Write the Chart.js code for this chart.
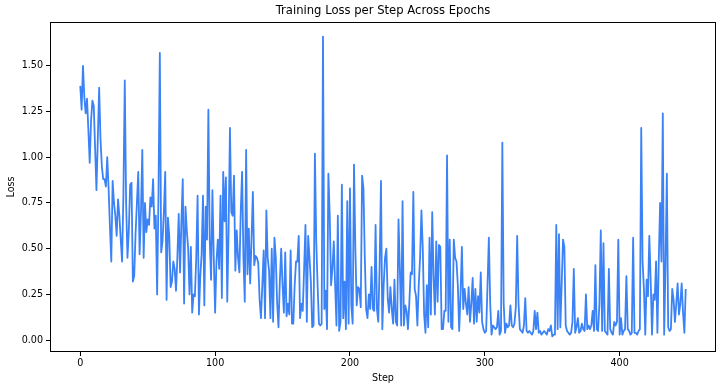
<!DOCTYPE html>
<html>
<head>
<meta charset="utf-8">
<script src="https://cdn.jsdelivr.net/npm/chart.js@4.4.1/dist/chart.umd.min.js"></script>
<style>
  html, body { margin: 0; padding: 0; background: #fff; }
  #c { display: block; }
</style>
</head>
<body>
<canvas id="c" width="720" height="390"></canvas>
<script>
// --- data (one loss value per step) ---
const loss = [
  1.39, 1.26, 1.50, 1.33, 1.24, 1.32, 1.15, 0.97, 1.20, 1.31,
  1.28, 1.05, 0.82, 1.10, 1.38, 1.10, 0.95, 0.88, 0.88, 0.84,
  1.00, 0.83, 0.62, 0.43, 0.87, 0.75, 0.68, 0.57, 0.77, 0.68,
  0.55, 0.43, 0.80, 1.42, 0.75, 0.45, 0.60, 0.85, 0.86, 0.32,
  0.35, 0.58, 0.75, 0.92, 0.47, 0.70, 1.04, 0.45, 0.75, 0.59,
  0.66, 0.63, 0.78, 0.73, 0.88, 0.61, 0.68, 0.25, 0.80, 1.57,
  0.48, 0.54, 0.70, 0.92, 0.22, 0.67, 0.57, 0.29, 0.32, 0.43,
  0.39, 0.27, 0.45, 0.69, 0.37, 0.65, 0.88, 0.20, 0.73, 0.60,
  0.50, 0.25, 0.51, 0.15, 0.25, 0.24, 0.45, 0.79, 0.14, 0.35,
  0.47, 0.79, 0.19, 0.73, 0.55, 1.26, 0.55, 0.33, 0.82, 0.45,
  0.15, 0.43, 0.55, 0.39, 0.79, 0.23, 0.92, 0.65, 0.89, 0.21,
  0.60, 1.16, 0.70, 0.68, 0.90, 0.38, 0.60, 0.45, 0.37, 0.70,
  0.92, 0.45, 0.21, 1.04, 0.36, 0.61, 0.31, 0.55, 0.81, 0.41,
  0.46, 0.45, 0.42, 0.22, 0.12, 0.30, 0.49, 0.12, 0.71, 0.45,
  0.38, 0.12, 0.50, 0.10, 0.56, 0.45, 0.20, 0.07, 0.32, 0.50,
  0.30, 0.15, 0.48, 0.13, 0.20, 0.14, 0.49, 0.09, 0.09, 0.30,
  0.43, 0.43, 0.57, 0.12, 0.20, 0.16, 0.39, 0.63, 0.10, 0.57,
  0.45, 0.32, 0.07, 0.08, 1.02, 0.54, 0.30, 0.09, 0.08, 0.09,
  1.66, 0.17, 0.27, 0.06, 0.91, 0.68, 0.30, 0.39, 0.54, 0.30,
  0.08, 0.68, 0.05, 0.10, 0.85, 0.12, 0.32, 0.06, 0.76, 0.09,
  0.83, 0.19, 0.09, 0.96, 0.50, 0.19, 0.29, 0.28, 0.18, 0.90,
  0.83, 0.45, 0.17, 0.12, 0.25, 0.17, 0.40, 0.17, 0.16, 0.63,
  0.17, 0.10, 0.41, 0.87, 0.06, 0.30, 0.45, 0.50, 0.23, 0.15,
  0.29, 0.17, 0.09, 0.33, 0.10, 0.08, 0.66, 0.39, 0.08, 0.76,
  0.08, 0.19, 0.16, 0.06, 0.20, 0.37, 0.36, 0.81, 0.28, 0.24,
  0.08, 0.30, 0.45, 0.71, 0.50, 0.14, 0.04, 0.30, 0.07, 0.56,
  0.14, 0.70, 0.35, 0.14, 0.54, 0.21, 0.52, 0.51, 0.06, 0.06,
  0.16, 0.16, 1.01, 0.10, 0.55, 0.07, 0.06, 0.55, 0.45, 0.43,
  0.30, 0.05, 0.25, 0.51, 0.17, 0.28, 0.20, 0.14, 0.29, 0.10,
  0.20, 0.34, 0.09, 0.28, 0.10, 0.24, 0.15, 0.37, 0.10, 0.06,
  0.04, 0.05, 0.30, 0.56, 0.20, 0.03, 0.08, 0.07, 0.06, 0.07,
  0.16, 0.03, 0.05, 1.08, 0.20, 0.04, 0.09, 0.07, 0.08, 0.19,
  0.08, 0.07, 0.09, 0.18, 0.57, 0.20, 0.06, 0.05, 0.04, 0.08,
  0.23, 0.05, 0.04, 0.05, 0.04, 0.03, 0.05, 0.16, 0.06, 0.15,
  0.04, 0.05, 0.03, 0.04, 0.05, 0.04, 0.03, 0.06, 0.05, 0.08,
  0.02, 0.03, 0.03, 0.63, 0.06, 0.58, 0.07, 0.30, 0.55, 0.51,
  0.08, 0.05, 0.04, 0.03, 0.04, 0.10, 0.39, 0.04, 0.07, 0.12,
  0.04, 0.05, 0.09, 0.06, 0.05, 0.25, 0.06, 0.08, 0.06, 0.08,
  0.16, 0.05, 0.41, 0.06, 0.05, 0.20, 0.60, 0.05, 0.53, 0.05,
  0.04, 0.03, 0.39, 0.06, 0.04, 0.03, 0.10, 0.08, 0.10, 0.55,
  0.03, 0.12, 0.03, 0.05, 0.06, 0.35, 0.06, 0.05, 0.03, 0.04,
  0.56, 0.04, 0.04, 0.03, 0.05, 0.06, 1.16, 0.43, 0.28, 0.03,
  0.33, 0.24, 0.57, 0.33, 0.03, 0.25, 0.22, 0.43, 0.04, 0.43,
  0.75, 0.43, 1.24, 0.03, 0.40, 0.91, 0.07, 0.05, 0.06, 0.28,
  0.22, 0.10, 0.20, 0.31, 0.14, 0.20, 0.31, 0.15, 0.04, 0.28
];
const xTicks = [0, 100, 200, 300, 400];
const yTicks = [0, 0.25, 0.5, 0.75, 1.0, 1.25, 1.5];

const FONT = "'DejaVu Sans', sans-serif";

// matplotlib風の黒い枠 (4辺)
const framePlugin = {
  id: 'frame',
  afterDatasetsDraw(chart) {
    const { ctx, chartArea: a } = chart;
    ctx.save();
    ctx.strokeStyle = '#000';
    ctx.lineWidth = 1;
    ctx.strokeRect(Math.round(a.left) + 0.5, Math.round(a.top) + 0.5,
      Math.round(a.right - a.left) - 1, Math.round(a.bottom - a.top) - 1);
    ctx.restore();
  }
};

new Chart(document.getElementById('c'), {
  type: 'line',
  data: {
    datasets: [{
      label: 'Loss',
      data: loss.map((v, i) => ({ x: i, y: v })),
      borderColor: '#3B82F6',
      borderWidth: 1.8,
      pointRadius: 0,
      tension: 0,
      borderJoinStyle: 'round',
      fill: false
    }]
  },
  options: {
    responsive: false,
    animation: false,
    devicePixelRatio: 1,
    layout: { padding: { left: 0, right: 4, top: 0, bottom: 0 } },
    plugins: {
      legend: { display: false },
      tooltip: { enabled: false },
      title: {
        display: true,
        text: 'Training Loss per Step Across Epochs',
        color: '#000',
        fullSize: false,
        font: { family: FONT, size: 11.6, weight: 'normal', lineHeight: 1.2 },
        padding: { top: 4, bottom: 4 }
      }
    },
    scales: {
      x: {
        type: 'linear',
        min: -22.45,
        max: 471.45,
        afterBuildTicks: s => { s.ticks = xTicks.map(v => ({ value: v })); },
        afterFit: s => { s.height = 38; },
        grid: { drawOnChartArea: false, color: '#000', tickLength: 4, tickWidth: 1 },
        border: { display: false },
        ticks: {
          autoSkip: false, maxRotation: 0, color: '#000', padding: 2,
          font: { family: FONT, size: 9.6 },
          callback: v => String(v)
        },
        title: {
          display: true, text: 'Step', color: '#000',
          font: { family: FONT, size: 9.6 },
          padding: { top: 0, bottom: 6 }
        }
      },
      y: {
        min: -0.065,
        max: 1.74,
        afterBuildTicks: s => { s.ticks = yTicks.map(v => ({ value: v })); },
        afterFit: s => { s.width = 50; },
        grid: { drawOnChartArea: false, color: '#000', tickLength: 4, tickWidth: 1 },
        border: { display: false },
        ticks: {
          color: '#000', padding: 3,
          font: { family: FONT, size: 9.6 },
          callback: v => v.toFixed(2)
        },
        title: {
          display: true, text: 'Loss', color: '#000',
          font: { family: FONT, size: 9.6 },
          padding: { top: 6, bottom: 0 }
        }
      }
    }
  },
  plugins: [framePlugin]
});
</script>
</body>
</html>
